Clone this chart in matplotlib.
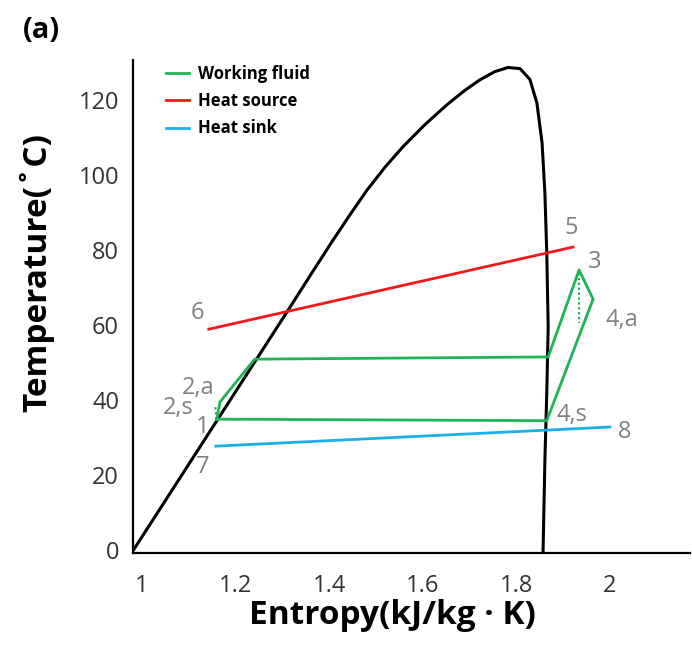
import matplotlib
matplotlib.use("Agg")
import matplotlib.pyplot as plt

plt.rcParams['font.family'] = ['Open Sans', 'DejaVu Sans']

# Saturation dome (entropy kJ/kg.K, temperature C)
dome_s = [0.982, 1.310, 1.359, 1.408, 1.445, 1.481, 1.520, 1.558, 1.605, 1.652, 1.690,
          1.722, 1.754, 1.782, 1.808, 1.829, 1.844, 1.855, 1.861, 1.865, 1.868, 1.865,
          1.861, 1.857]
dome_T = [0.0, 63.5, 73.1, 82.6, 89.5, 96.0, 102.2, 107.6, 113.5, 118.8, 122.6,
          125.4, 127.6, 128.7, 128.4, 125.5, 119.2, 108.5, 95.2, 79.2, 59.5, 41.9,
          24.0, -0.8]

# Working fluid cycle: 1 -> 2,a -> 2 -> sat. vapour -> 3 -> 4,a -> 4,s -> 1
cycle_s = [1.160, 1.167, 1.241, 1.868, 1.934, 1.964, 1.865, 1.160]
cycle_T = [34.9, 39.5, 50.9, 51.5, 74.7, 66.9, 34.5, 34.9]
# isentropic (dotted) segments
pump_s_dot = [1.160, 1.156]
pump_T_dot = [34.9, 38.7]
turb_s_dot = [1.934, 1.934]
turb_T_dot = [73.9, 60.5]

# Heat source 6 -> 5, heat sink 7 -> 8
source_s = [1.143, 1.921]
source_T = [58.9, 80.8]
sink_s = [1.158, 2.000]
sink_T = [27.7, 32.8]

xticks = [1, 1.2, 1.4, 1.6, 1.8, 2]
xtick_labels = ['1', '1.2', '1.4', '1.6', '1.8', '2']
yticks = [0, 20, 40, 60, 80, 100, 120]

point_labels = ['6', '5', '3', '4,a', '2,a', '2,s', '1', '7', '4,s', '8']
point_label_s = [1.1175, 1.917, 1.968, 2.026, 1.120, 1.077, 1.130, 1.130, 1.919, 2.032]
point_label_T = [63.2, 85.9, 76.8, 61.3, 43.2, 37.9, 32.8, 22.1, 36.0, 31.5]

GREEN = '#1fb356'
RED = '#f01818'
BLUE = '#1ab0ea'
GRAY = '#808080'

fig = plt.figure(figsize=(6.92, 6.45), dpi=100)
ax = fig.add_axes([133/692, 92/645, 557/692, 493/645])

ax.plot(dome_s, dome_T, color='black', lw=2.2, solid_joinstyle='round')
ax.plot(cycle_s, cycle_T, color=GREEN, lw=2.0, label='Working fluid')
ax.plot(pump_s_dot, pump_T_dot, color=GREEN, lw=1.6, ls=(0, (1, 1.2)))
ax.plot(turb_s_dot, turb_T_dot, color=GREEN, lw=1.6, ls=(0, (1, 1.2)))
ax.plot(source_s, source_T, color=RED, lw=2.0, label='Heat source')
ax.plot(sink_s, sink_T, color=BLUE, lw=2.0, label='Heat sink')

for t, s, T in zip(point_labels, point_label_s, point_label_T):
    ax.text(s, T, t, color=GRAY, fontsize=17, ha='center', va='center')

ax.set_xlim(0.981, 2.171)
ax.set_ylim(-0.8, 130.7)
ax.set_xticks(xticks)
ax.set_xticklabels(xtick_labels)
ax.set_yticks(yticks)
ax.tick_params(length=0, labelsize=17, labelcolor='#333333')
ax.tick_params(axis='x', pad=15)
ax.tick_params(axis='y', pad=10)
for side in ['top', 'right']:
    ax.spines[side].set_visible(False)
for side in ['left', 'bottom']:
    ax.spines[side].set_linewidth(1.6)
    ax.spines[side].set_color('black')

leg = ax.legend(loc='upper left', bbox_to_anchor=(0.032, 1.02), frameon=False,
                handlelength=1.4, handletextpad=0.55, labelspacing=0.55,
                prop={'weight': 'bold', 'size': 12})

fig.text(37/692, 1 - 272/645, 'Temperature(˚C)', rotation=90, ha='center', va='center',
         fontsize=24, fontweight='bold')
fig.text(392/692, 1 - 615/645, 'Entropy(kJ/kg · K)', ha='center', va='center',
         fontsize=24, fontweight='bold')
fig.text(41/692, 1 - 30/645, '(a)', ha='center', va='center', fontsize=21, fontweight='bold')

fig.savefig('out.png', dpi=100)
